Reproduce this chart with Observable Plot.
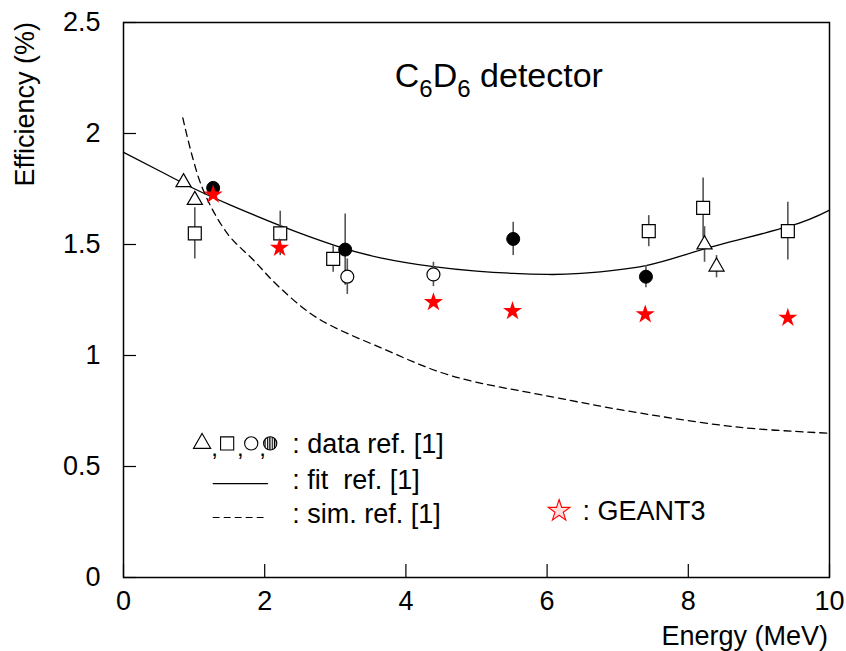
<!DOCTYPE html>
<html><head><meta charset="utf-8">
<script src="https://cdn.jsdelivr.net/npm/d3@7"></script>
<script src="https://cdn.jsdelivr.net/npm/@observablehq/plot@0.6"></script>
<style>body{margin:0;background:#fff} svg{display:block}</style>
</head><body><div id="chart"></div>
<script>
// ---- data ----
const xTicks = [0, 2, 4, 6, 8, 10];
const yTicks = [0, 0.5, 1, 1.5, 2, 2.5];
const yTickLabels = ["0", "0.5", "1", "1.5", "2", "2.5"];

const triX = [0.85, 1.01, 8.23, 8.40];
const triY = [1.78, 1.70, 1.50, 1.40];
const triE = [0, 0, 0.08, 0.05];

const sqX = [1.01, 2.22, 2.97, 7.44, 8.21, 9.41];
const sqY = [1.55, 1.55, 1.435, 1.56, 1.665, 1.56];
const sqE = [0.115, 0.10, 0.06, 0.07, 0.135, 0.13];

const ocX = [3.17, 4.39];
const ocY = [1.355, 1.365];
const ocE = [0.08, 0.055];

const fcX = [1.27, 3.14, 5.52, 7.40];
const fcY = [1.755, 1.477, 1.525, 1.355];
const fcE = [0.02, 0.16, 0.075, 0.05];

const geantX = [1.27, 2.21, 4.39, 5.51, 7.39, 9.41];
const geantY = [1.725, 1.485, 1.24, 1.20, 1.185, 1.17];

const fitX = [0, 0.52, 1.01, 1.5, 2.22, 3.0, 3.64, 4.39, 5.0, 5.52, 6.0, 6.48, 7.40, 8.23, 9.41, 10];
const fitY = [1.915, 1.83, 1.75, 1.68, 1.585, 1.495, 1.44, 1.40, 1.38, 1.37, 1.365, 1.37, 1.405, 1.48, 1.58, 1.655];

const simX = [0.84, 1.11, 1.47, 1.84, 2.2, 2.74, 3.68, 4.63, 6.05, 7.33, 8.74, 10];
const simY = [2.07, 1.76, 1.55, 1.43, 1.31, 1.17, 1.03, 0.91, 0.815, 0.74, 0.676, 0.65];

const legendLabels = [": data ref. [1]", ": fit\u00a0 ref. [1]", ": sim. ref. [1]", ": GEANT3"];

// ---- build tables ----
const rows = (xs, ys, es) => xs.map((x, i) => ({x, y: ys[i], e: es ? es[i] : 0}));
const tri = rows(triX, triY, triE);
const sq = rows(sqX, sqY, sqE);
const oc = rows(ocX, ocY, ocE);
const fc = rows(fcX, fcY, fcE);
const geant = rows(geantX, geantY);
const fit = rows(fitX, fitY);
const sim = rows(simX, simY);
const errs = [...tri, ...sq, ...oc, ...fc].filter(d => d.e > 0);

// legend layout (data units)
const legText = [
  {x: 2.39, y: 0.60, t: legendLabels[0]},
  {x: 2.39, y: 0.437, t: legendLabels[1]},
  {x: 2.39, y: 0.285, t: legendLabels[2]},
  {x: 6.50, y: 0.30, t: legendLabels[3]}
];
const legSymY = 0.604;
const legCommas = [1.29, 1.655, 1.97];
const legSolid = [{x: 1.27, y: 0.423}, {x: 2.04, y: 0.423}];
const legDash = [{x: 1.27, y: 0.27}, {x: 2.04, y: 0.27}];

const font = "'Liberation Sans', Arial, Helvetica, sans-serif";

const plot = Plot.plot({
  width: 846, height: 651,
  marginLeft: 123, marginRight: 17, marginTop: 22, marginBottom: 74,
  x: {domain: [0, 10], label: null},
  y: {domain: [0, 2.5], label: null},
  style: {fontFamily: font, fontSize: "27px", background: "white", color: "black"},
  marks: [
    Plot.axisX({ticks: xTicks, tickSize: -13, tickFormat: () => "", label: null, strokeWidth: 1.2}),
    Plot.axisX({ticks: xTicks, tickSize: 0, tickPadding: 13, label: null, fontSize: 27}),
    Plot.axisY({ticks: yTicks, tickSize: -13, tickFormat: () => "", label: null, strokeWidth: 1.2}),
    Plot.axisY({ticks: yTicks, tickSize: 0, tickPadding: 23, label: null, fontSize: 27,
      tickFormat: d => yTickLabels[yTicks.indexOf(d)]}),
    Plot.line(fit, {x: "x", y: "y", curve: "natural", stroke: "black", strokeWidth: 1.3}),
    Plot.line(sim, {x: "x", y: "y", curve: "catmull-rom", stroke: "black", strokeWidth: 1.3, strokeDasharray: "7,5"}),
    Plot.ruleX(errs, {x: "x", y1: d => d.y - d.e, y2: d => d.y + d.e, stroke: "#555", strokeWidth: 1.6}),
    Plot.dot(tri, {x: "x", y: "y", symbol: "triangle", r: 5.6, stroke: "black", fill: "white", strokeWidth: 1.2}),
    Plot.dot(sq, {x: "x", y: "y", symbol: "square", r: 7.3, stroke: "black", fill: "white", strokeWidth: 1.2}),
    Plot.dot(oc, {x: "x", y: "y", symbol: "circle", r: 6.5, stroke: "black", fill: "white", strokeWidth: 1.2}),
    Plot.dot(fc, {x: "x", y: "y", symbol: "circle", r: 6.5, stroke: "black", fill: "black", strokeWidth: 1}),
    Plot.dot(geant, {x: "x", y: "y", symbol: "star", r: 6, fill: "#ff0000", stroke: "none"}),
    // legend
    Plot.dot([1.113], {x: d => d, y: () => legSymY, symbol: "triangle", r: 6.4, stroke: "black", fill: "white", strokeWidth: 1.1}),
    Plot.dot([1.468], {x: d => d, y: () => legSymY, symbol: "square", r: 7.4, stroke: "black", fill: "white", strokeWidth: 1.1}),
    Plot.dot([1.809], {x: d => d, y: () => legSymY, symbol: "circle", r: 6.6, stroke: "black", fill: "white", strokeWidth: 1.1}),
    Plot.dot([2.078], {x: d => d, y: () => legSymY, symbol: "circle", r: 6.6, stroke: "black", fill: "url(#vstripes)", strokeWidth: 1.1}),
    Plot.text(legCommas, {x: d => d, y: () => legSymY, text: () => ",", dy: 5, fontSize: 24, fill: "black"}),
    Plot.text(legText, {x: "x", y: "y", text: "t", textAnchor: "start", fontSize: 27, fill: "black"}),
    Plot.line(legSolid, {x: "x", y: "y", stroke: "black", strokeWidth: 1.3}),
    Plot.line(legDash, {x: "x", y: "y", stroke: "black", strokeWidth: 1.1, strokeDasharray: "6,5"}),
    Plot.dot([{x: 6.17, y: 0.30}], {x: "x", y: "y", symbol: "star", r: 6.8, stroke: "red", fill: "#ffe0e0", strokeWidth: 1.1}),
    Plot.frame({stroke: "black", strokeWidth: 1.5})
  ]
});

document.getElementById("chart").appendChild(plot);

const svg = d3.select(plot);
// stripes pattern for the fourth legend symbol
const pat = svg.insert("defs", ":first-child").append("pattern")
  .attr("id", "vstripes").attr("patternUnits", "userSpaceOnUse").attr("width", 2.4).attr("height", 10);
pat.append("rect").attr("width", 2.4).attr("height", 10).attr("fill", "white");
pat.append("rect").attr("width", 1.2).attr("height", 10).attr("fill", "black");

// Title and axis labels
const sx = plot.scale("x"), sy = plot.scale("y");
const title = svg.append("text")
  .attr("x", sx.apply(3.85)).attr("y", sy.apply(2.207))
  .attr("text-anchor", "start")
  .attr("font-family", font).attr("font-size", 34).attr("fill", "black");
title.append("tspan").text("C");
title.append("tspan").attr("dy", 10).attr("font-size", 24).text("6");
title.append("tspan").attr("dy", -10).text("D");
title.append("tspan").attr("dy", 10).attr("font-size", 24).text("6");
title.append("tspan").attr("dy", -10).text("\u00a0detector");

svg.append("text")
  .attr("x", 828).attr("y", 645)
  .attr("text-anchor", "end").attr("font-family", font).attr("font-size", 27).attr("fill", "black")
  .text("Energy (MeV)");

svg.append("text")
  .attr("transform", "translate(34,22) rotate(-90)")
  .attr("text-anchor", "end").attr("font-family", font).attr("font-size", 27).attr("fill", "black")
  .text("Efficiency (%)");
</script>
</body></html>
